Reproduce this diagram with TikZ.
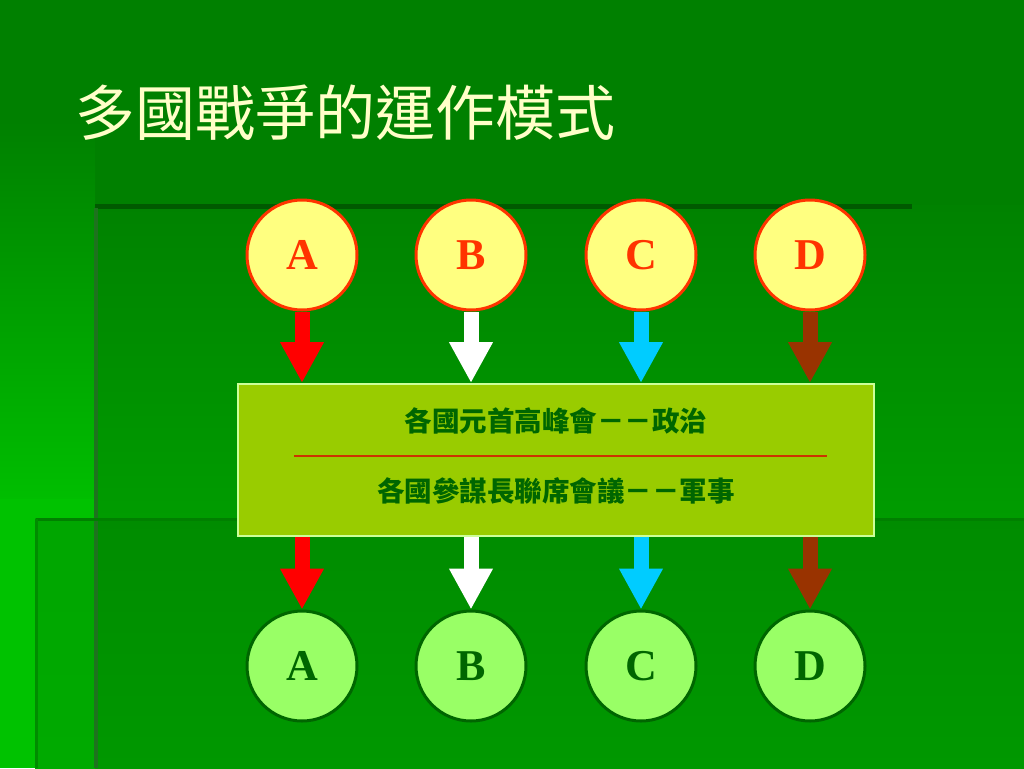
\documentclass[tikz,border=0pt]{standalone}
\usepackage{fontspec}
\setmainfont{Liberation Serif}
\newfontfamily\cjk{Noto Sans CJK TC}
\usetikzlibrary{arrows.meta}
\definecolor{bgA}{HTML}{008000}
\definecolor{bgB}{HTML}{008A00}
\definecolor{bgC}{HTML}{00BE00}
\definecolor{bgD}{HTML}{00C200}
\definecolor{bgE}{HTML}{008200}
\definecolor{bgF}{HTML}{009C00}
\definecolor{bgG}{HTML}{008C00}
\definecolor{bgH}{HTML}{009800}
\definecolor{bgI}{HTML}{00A600}
\definecolor{bgJ}{HTML}{00AA00}
\definecolor{edgeA}{HTML}{005A00}
\definecolor{edgeB}{HTML}{1E731E}
\definecolor{edgeC}{HTML}{008000}
\definecolor{edgeD}{HTML}{008C00}
\definecolor{sepc}{HTML}{CC3300}
\definecolor{topfill}{HTML}{FFFF80}
\definecolor{topline}{HTML}{FF3300}
\definecolor{botfill}{HTML}{99FF66}
\definecolor{botline}{HTML}{006600}
\definecolor{boxfill}{HTML}{99CC00}
\definecolor{boxline}{HTML}{CCFF99}
\definecolor{titlecol}{HTML}{FFFFC8}
\definecolor{cyanA}{HTML}{00CCFF}
\definecolor{brownA}{HTML}{993300}
\definecolor{redA}{HTML}{FF0000}
\tikzset{
  topcirc/.style={circle, minimum size=110pt, inner sep=0pt, line width=3pt, draw=topline, fill=topfill,
     text=topline, font=\fontsize{44}{44}\selectfont\bfseries},
  botcirc/.style={circle, minimum size=110pt, inner sep=0pt, line width=3pt, draw=botline, fill=botfill,
     text=botline, font=\fontsize{44}{44}\selectfont\bfseries},
  arr/.style={line width=15pt, -{Triangle[width=41pt,length=41pt]}},
  boxtext/.style={text=botline, font=\cjk\bfseries\fontsize{27.5}{30}\selectfont, inner sep=0pt},
}
\begin{document}
\begin{tikzpicture}[x=1pt,y=-1pt]
\useasboundingbox (0,0) rectangle (1024,768);
% background
\fill[bgA] (0,0) rectangle (1024,768);
\shade[top color=bgA, bottom color=bgC] (0,120) rectangle (95,500);
\fill[bgD] (0,499) rectangle (95,768);
\shade[top color=bgE, bottom color=bgF] (95,205) rectangle (1024,518);
\shade[top color=bgG, bottom color=bgH] (95,518) rectangle (1024,768);
\shade[top color=bgI, bottom color=bgJ] (35,518) rectangle (95,768);
\draw[line width=5pt, edgeA] (95,206) -- (912,206);
\draw[line width=4pt, edgeB] (96,208) -- (96,768);
\draw[line width=3pt, edgeC] (36,519) -- (1024,519);
\draw[line width=3pt, edgeD] (36,519) -- (36,768);
% title
\node[text=titlecol, font=\cjk\fontsize{60}{60}\selectfont, inner sep=0pt] (title) at (345,113) {多國戰爭的運作模式};
% box
\node[rectangle, minimum width=636pt, minimum height=152pt, fill=boxfill, draw=boxline, line width=2pt, inner sep=0pt] (box) at (556,460) {};
\node[boxtext] (l1) at (556,421) {各國元首高峰會－－政治};
\node[boxtext] (l2) at (556,491) {各國參謀長聯席會議－－軍事};
\coordinate (sepL) at (294,456);
\coordinate (sepR) at (827,456);
\draw[line width=1.5pt, sepc] (sepL) -- (sepR);
% circles
\node[topcirc] (tA) at (302,255) {A};
\node[topcirc] (tB) at (471,255) {B};
\node[topcirc] (tC) at (641,255) {C};
\node[topcirc] (tD) at (810,255) {D};
\node[botcirc] (bA) at (302,666) {A};
\node[botcirc] (bB) at (471,666) {B};
\node[botcirc] (bC) at (641,666) {C};
\node[botcirc] (bD) at (810,666) {D};
% arrows
\draw[arr, redA] (tA.south) -- (tA.south |- box.north);
\draw[arr, white] (tB.south) -- (tB.south |- box.north);
\draw[arr, cyanA] (tC.south) -- (tC.south |- box.north);
\draw[arr, brownA] (tD.south) -- (tD.south |- box.north);
\draw[arr, redA] (bA.north |- box.south) -- (bA.north);
\draw[arr, white] (bB.north |- box.south) -- (bB.north);
\draw[arr, cyanA] (bC.north |- box.south) -- (bC.north);
\draw[arr, brownA] (bD.north |- box.south) -- (bD.north);
\end{tikzpicture}
\end{document}
